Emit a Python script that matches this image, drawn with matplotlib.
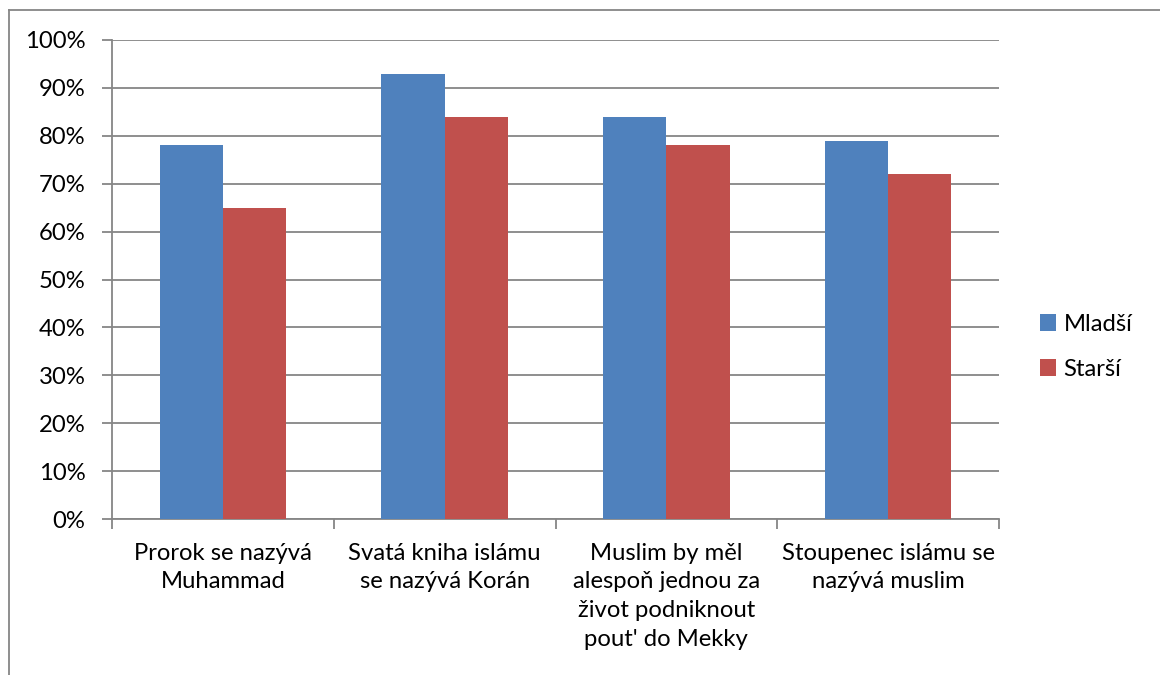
import numpy as np
import matplotlib.pyplot as plt
from matplotlib.lines import Line2D

plt.rcParams['font.family'] = ['Lato', 'DejaVu Sans']

categories = [
    "Prorok se nazývá\nMuhammad",
    "Svatá kniha islámu\nse nazývá Korán",
    "Muslim by měl\nalespoň jednou za\nživot podniknout\npout' do Mekky",
    "Stoupenec islámu se\nnazývá muslim",
]
mladsi = [78, 93, 84, 79]
starsi = [65, 84, 78, 72]
series_names = ["Mladší", "Starší"]

blue = "#4F81BD"
red = "#C0504D"
grid_col = "#868686"
fs = 17.2

fig = plt.figure(figsize=(11.6, 6.75), dpi=100)
ax = fig.add_axes([112 / 1160, 1 - 519 / 675, (999 - 112) / 1160, (519 - 40) / 675])

x = np.arange(len(categories)) + 0.5
w = 1 / 3.5
ax.bar(x - w / 2, mladsi, width=w, color=blue, label=series_names[0], zorder=3)
ax.bar(x + w / 2, starsi, width=w, color=red, label=series_names[1], zorder=3)

ax.set_xlim(0, len(categories))
ax.set_ylim(0, 100)
ax.set_yticks(np.arange(0, 101, 10))
ax.set_yticklabels([f"{v}%" for v in range(0, 101, 10)])
ax.yaxis.grid(True, color=grid_col, linewidth=1.3, zorder=0)

# category boundary ticks on x axis, labels centred
ax.set_xticks(np.arange(len(categories) + 1))
ax.set_xticklabels([])
ax.set_xticks(x, minor=True)
ax.set_xticklabels(categories, minor=True, fontsize=fs, linespacing=1.45)
ax.tick_params(axis='x', which='minor', length=0, pad=17)
ax.tick_params(axis='x', which='major', length=7, width=1.3, color=grid_col, direction='out')
ax.tick_params(axis='y', length=7, width=1.3, color=grid_col, labelsize=fs, pad=12)

for side in ['top', 'right']:
    ax.spines[side].set_visible(False)
for side in ['left', 'bottom']:
    ax.spines[side].set_color(grid_col)
    ax.spines[side].set_linewidth(1.3)

leg = fig.legend(loc='center left', bbox_to_anchor=(1018 / 1160, 1 - 347 / 675),
                 frameon=False, fontsize=fs, handlelength=0.7, handleheight=0.7,
                 labelspacing=1.0, handletextpad=0.3)

# outer chart border (partially cropped)
fig.add_artist(Line2D([9 / 1160, 9 / 1160], [0, 1 - 10 / 675], color=grid_col, linewidth=1.3))
fig.add_artist(Line2D([9 / 1160, 1], [1 - 10 / 675, 1 - 10 / 675], color=grid_col, linewidth=1.3))

fig.savefig("out.png", dpi=100)
